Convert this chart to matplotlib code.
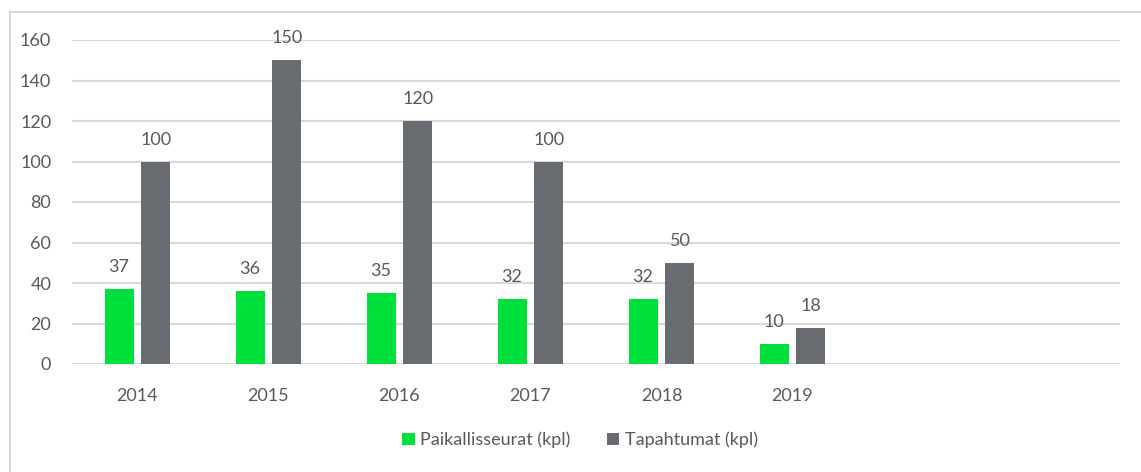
import numpy as np
import matplotlib
matplotlib.use("Agg")
import matplotlib.pyplot as plt
from matplotlib.lines import Line2D

# --- data ---
years = ["2014", "2015", "2016", "2017", "2018", "2019", "", ""]
paikallisseurat = [37, 36, 35, 32, 32, 10]
tapahtumat = [100, 150, 120, 100, 50, 18]
yticks = [0, 20, 40, 60, 80, 100, 120, 140, 160]

GREEN = "#00E03C"
GRAY = "#686C70"
TEXT = "#595959"

plt.rcParams["font.family"] = ["Lato", "DejaVu Sans"]

fig = plt.figure(figsize=(11.41, 4.72), dpi=100)
ax = fig.add_axes([72 / 1141, 1 - 364 / 472, 1048 / 1141, 324 / 472])

x = np.arange(len(years))
n = len(paikallisseurat)
w = 0.221
off = 0.141
b1 = ax.bar(x[:n] - off, paikallisseurat, w, color=GREEN, label="Paikallisseurat (kpl)", zorder=3)
b2 = ax.bar(x[:n] + off, tapahtumat, w, color=GRAY, label="Tapahtumat (kpl)", zorder=3)

for bars in (b1, b2):
    for r in bars:
        ax.annotate(f"{r.get_height():g}", (r.get_x() + r.get_width() / 2, r.get_height()),
                    xytext=(0, 10), textcoords="offset points", ha="center", va="bottom",
                    fontsize=13, color=TEXT)

ax.set_xlim(-0.5, len(years) - 0.5)
ax.set_ylim(0, 160)
ax.set_yticks(yticks)
ax.set_xticks(x)
ax.set_xticklabels(years)
ax.tick_params(axis="both", length=0, labelsize=13, labelcolor=TEXT)
ax.tick_params(axis="x", pad=17)
ax.tick_params(axis="y", pad=15)
ax.grid(axis="y", color="#D9D9D9", linewidth=1.5, zorder=0)
for s in ax.spines.values():
    s.set_visible(False)

leg = fig.legend(loc="center", bbox_to_anchor=(580 / 1141, 1 - 440 / 472), ncol=2,
                 frameon=False, fontsize=13, handlelength=0.7, handleheight=0.7,
                 handletextpad=0.3, columnspacing=2.0)
for t in leg.get_texts():
    t.set_color(TEXT)

# outer frame (left and top edges)
fig.add_artist(Line2D([9.5 / 1141, 9.5 / 1141], [0, 1 - 12 / 472], transform=fig.transFigure,
                      color="#D0D0D0", linewidth=1.2))
fig.add_artist(Line2D([9.5 / 1141, 1], [1 - 12 / 472, 1 - 12 / 472], transform=fig.transFigure,
                      color="#D0D0D0", linewidth=1.2))

fig.savefig("out.png", dpi=100)
